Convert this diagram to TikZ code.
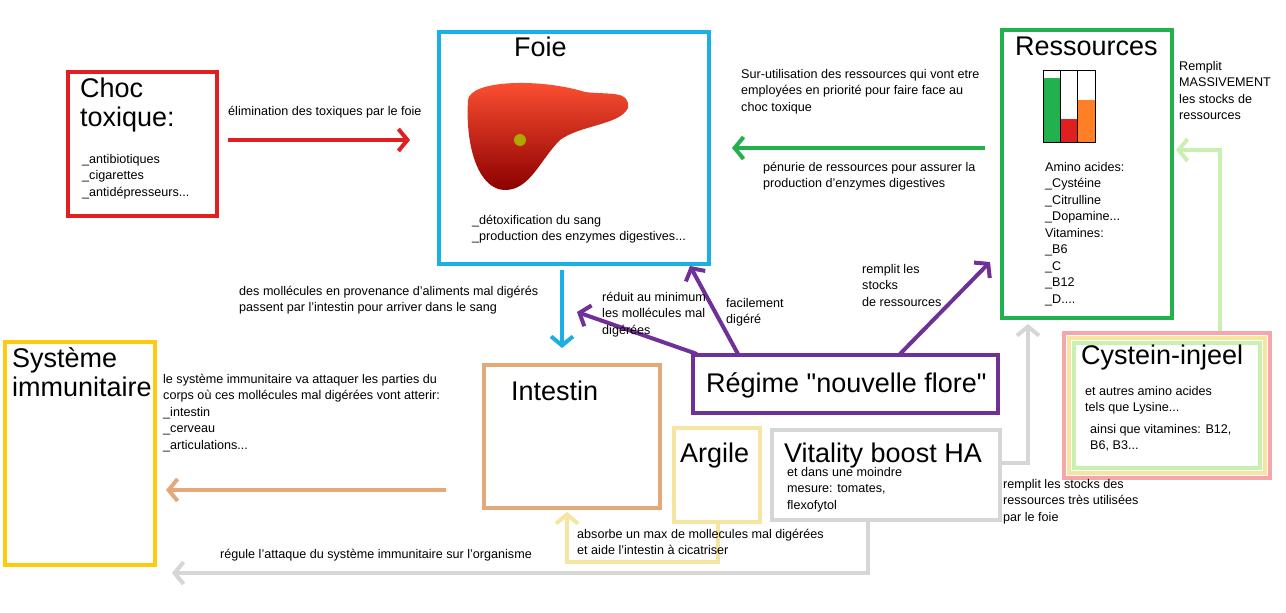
\documentclass[tikz,border=0pt]{standalone}
\usepackage{fontspec}
\setmainfont{Liberation Sans}
\newfontfamily\plainfont{Liberation Sans}[Ligatures=ResetAll]
\usetikzlibrary{arrows.meta,calc}
\definecolor{cred}{HTML}{E02020}
\definecolor{cblue}{HTML}{1AAFE6}
\definecolor{cgreen}{HTML}{22B14C}
\definecolor{cyel}{HTML}{FFC90E}
\definecolor{ctan}{HTML}{E5A878}
\definecolor{cpurp}{HTML}{6F3198}
\definecolor{cpale}{HTML}{F5E5A0}
\definecolor{cgrey}{HTML}{D6D6D6}
\definecolor{cpink}{HTML}{F6A5A8}
\definecolor{clgreen}{HTML}{C8F0B0}
\definecolor{corange}{HTML}{FF7F27}
\tikzset{
 box/.style={draw=#1,line width=4pt,fill=white},
 big/.style={font=\fontsize{27}{29}\selectfont,anchor=north west,align=left,inner sep=0},
 small/.style={font=\fontsize{12.6}{16.5}\selectfont,anchor=north west,align=left,inner sep=0},
 arr/.style={line width=4pt,-{Straight Barb[length=9pt,width=22pt,line width=4pt]}}
}
\begin{document}
\begin{tikzpicture}[x=1pt,y=-1pt]
\useasboundingbox (0,0) rectangle (1286,613);
\fill[white] (0,0) rectangle (1286,613);
% boxes
\draw[box=cred] (68,72) rectangle (217,216);
\node[big] (choc) at (80,78) {Choc\\toxique:};
\node[small] (chocl) at (82,154) {\_antibiotiques\\\_cigarettes\\\_antidépresseurs...};
\draw[box=cblue] (439,32) rectangle (709,264);
\node[big] (foie) at (514,37) {Foie};
% liver
\shade[top color=red!70!orange!80!white,bottom color=red!55!black] (468,100) .. controls (470,80) and (540,78) .. (585,92) .. controls (610,95) and (630,90) .. (628,108) .. controls (620,125) and (580,125) .. (560,140) .. controls (540,160) and (530,190) .. (505,190) .. controls (480,190) and (465,150) .. (468,100) -- cycle;
\fill[olive!70!yellow] (520,140) circle (6pt);
\node[small] (foiel) at (472,215) {\_détoxification du sang\\\_production des enzymes digestives...};
\draw[box=cgreen] (1002,30) rectangle (1172,318);
\node[big] (res) at (1015,37) {Ressources};
\fill[cgreen] (1043,78) rectangle (1060,142);
\fill[cred] (1060,119) rectangle (1077,142);
\fill[corange] (1077,100) rectangle (1095,142);
\draw[line width=1pt] (1043,70) rectangle (1060,142) (1060,70) rectangle (1077,142) (1077,70) rectangle (1095,142);
\node[small] (resl) at (1045,162) {Amino acides:\\\_Cystéine\\\_Citrulline\\\_Dopamine...\\Vitamines:\\\_B6\\\_C\\\_B12\\\_D....};
\draw[box=cyel] (5,342) rectangle (155,565);
\node[big] (immu) at (12,347) {Système\\immunitaire};
\draw[box=ctan] (484,365) rectangle (660,508);
\node[big] (int) at (511,381) {Intestin};
\draw[box=cpurp] (693,355) rectangle (998,413);
\node[big] (reg) at (706,372) {Régime {\plainfont "nouvelle flore"}};
\draw[box=cpale] (674,428) rectangle (760,522);
\node[big] (arg) at (680,443) {Argile};
\draw[box=cgrey] (772,430) rectangle (1000,520);
\node[big] (vit) at (784,443) {Vitality boost HA};
\node[small] (vitl) at (787,467) {et dans une moindre\\mesure: tomates,\\flexofytol};
\draw[box=cpink] (1064,333) rectangle (1270,478);
\draw[line width=4pt,cpale] (1069,338) rectangle (1265,473);
\draw[line width=4pt,clgreen] (1074,343) rectangle (1260,468);
\node[big] (cys) at (1081,345) {Cystein-injeel};
\node[small] (cysl) at (1085,386) {et autres amino acides\\tels que Lysine...};
\node[small] (cysl2) at (1090,424) {ainsi que vitamines: B12,\\B6, B3...};
% arrows
\coordinate (a1) at (228,140); \coordinate (a2) at (410,140);
\draw[arr,cred] (a1) -- (a2);
\node[small] at (228,106) {élimination des toxiques par le foie};
\coordinate (g1) at (985,148); \coordinate (g2) at (732,148);
\draw[arr,cgreen] (g1) -- (g2);
\node[small] at (741,69) {Sur-utilisation des ressources qui vont etre\\employées en priorité pour faire face au\\choc toxique};
\node[small] at (763,162) {pénurie de ressources pour assurer la\\production d'enzymes digestives};
\coordinate (b1) at (562,270); \coordinate (b2) at (562,348);
\draw[arr,cblue] (b1) -- (b2);
\node[small] at (239,286) {des mollécules en provenance d'aliments mal digérés\\passent par l'intestin pour arriver dans le sang};
\draw[arr,cpurp] (697,354) -- (577,312);
\draw[arr,cpurp] (738,354) -- (690,266);
\draw[arr,cpurp] (900,354) -- (990,262);
\node[small] at (602,292) {réduit au minimum\\les mollécules mal\\digérées};
\node[small] at (726,298) {facilement\\digéré};
\node[small] at (862,264) {remplit les\\stocks\\de ressources};
\draw[arr,ctan] (446,490) -- (166,490);
\node[small] at (163,374) {le système immunitaire va attaquer les parties du\\corps où ces mollécules mal digérées vont atterir:\\\_intestin\\\_cerveau\\\_articulations...};
\draw[arr,cpale] (718,524) -- (718,562) -- (567,562) -- (567,512);
\node[small] at (577,529) {absorbe un max de mollecules mal digérées\\et aide l'intestin à cicatriser};
\draw[arr,cgrey] (868,522) -- (868,573) -- (172,573);
\node[small] at (220,549) {régule l'attaque du système immunitaire sur l'organisme};
\draw[arr,cgrey] (1002,463) -- (1028,463) -- (1028,324);
\node[small] at (1003,479) {remplit les stocks des\\ressources très utilisées\\par le foie};
\draw[arr,clgreen] (1220,331) -- (1220,150) -- (1176,150);
\node[small] at (1179,61) {Remplit\\MASSIVEMENT\\les stocks de\\ressources};
\end{tikzpicture}
\end{document}
